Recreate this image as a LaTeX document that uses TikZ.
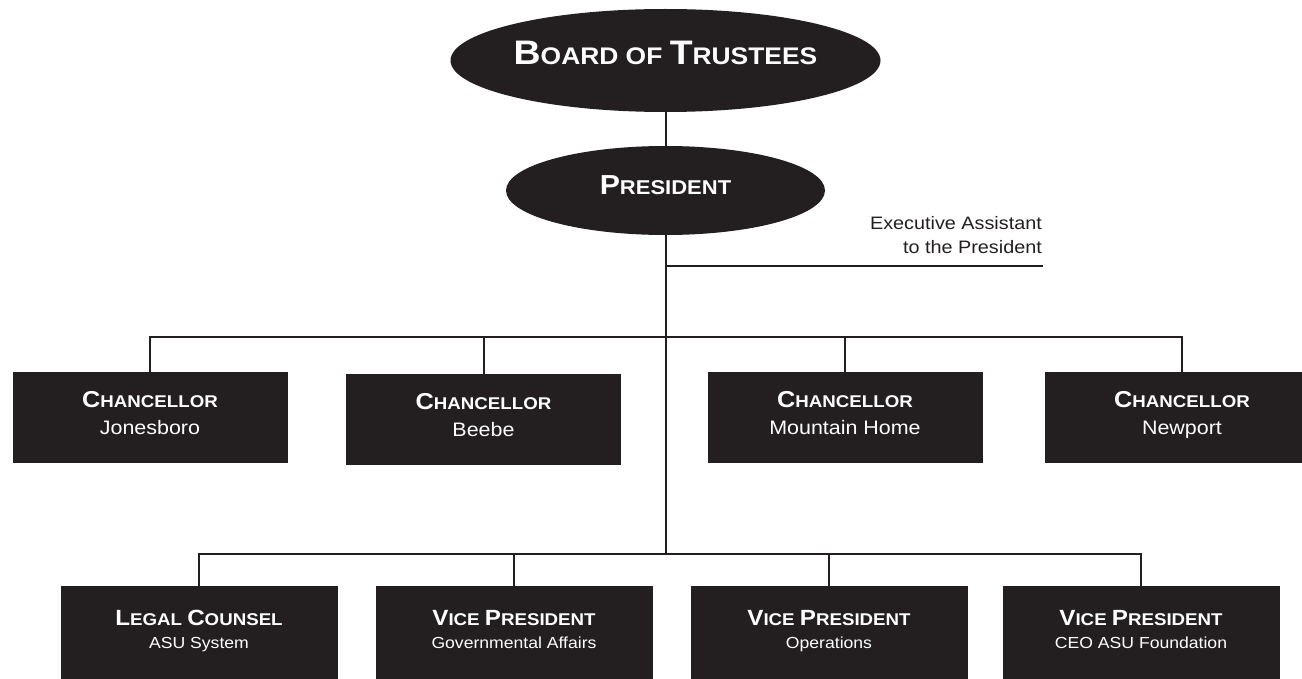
\documentclass[tikz,border=0pt]{standalone}
\usepackage{fontspec}
\setmainfont{Liberation Sans}[FakeStretch=1.1]
\usetikzlibrary{shapes.geometric,calc}
\definecolor{ink}{HTML}{231F20}
\newcommand\fsz[1]{\fontsize{#1}{#1}\selectfont}
\newcommand\scw[4]{{\fsz{#1}#3}{\fsz{#2}#4}}
\tikzset{
  conn/.style={draw=ink, line width=2pt},
  ell/.style={ellipse, fill=ink, inner sep=0pt},
  topbox/.style={rectangle, fill=ink, inner sep=0pt, minimum width=275pt, minimum height=91pt},
  lowbox/.style={rectangle, fill=ink, inner sep=0pt, minimum width=277pt, minimum height=130pt},
  ttl/.style={text=white, font=\bfseries, anchor=base, inner sep=0pt},
  subt/.style={text=white, anchor=base, inner sep=0pt},
  exec/.style={text=ink, anchor=base east, inner sep=0pt, font=\fsz{18}},
}
\begin{document}
\begin{tikzpicture}[x=1pt,y=-1pt]
\useasboundingbox (0,0) rectangle (1302,679);
\clip (0,0) rectangle (1302,679);
% ellipses
\node[ell, minimum width=430pt, minimum height=103pt] (board) at (665.5,60.5) {};
\node[ttl] (boardT) at (665.5,65) {\scw{34}{24}{B}{OARD OF }\scw{34}{24}{T}{RUSTEES}};
\node[ell, minimum width=319pt, minimum height=89pt] (pres) at (665.5,190.5) {};
\node[ttl] (presT) at (665.5,195) {\scw{27.5}{20}{P}{RESIDENT}};
% exec assistant
\coordinate (spine) at (665.5,554);
\coordinate (execend) at (1043,266);
\node[exec] (exec1) at (1042,230) {Executive Assistant};
\node[exec] (exec2) at (1042,254) {to the President};
% chancellors
\coordinate (cbar) at (665.5,337);
\node[topbox] (jon) at (150,417.5) {};
\node[topbox] (bee) at (483.5,419.5) {};
\node[topbox] (mh) at (845,417.5) {};
\node[topbox] (new) at (1182,417.5) {};
\foreach \n/\s in {jon/Jonesboro, bee/Beebe, mh/Mountain Home, new/Newport}{
  \node[ttl] (\n T) at ($(\n.north)+(0,36)$) {\scw{23}{17}{C}{HANCELLOR}};
  \node[subt, font=\fsz{19.5}] (\n S) at ($(\n.north)+(0,63)$) {\s};
}
% bottom row
\node[lowbox] (leg) at (199,651) {};
\node[lowbox] (gov) at (514,651) {};
\node[lowbox] (ops) at (829,651) {};
\node[lowbox] (ceo) at (1141,651) {};
\node[ttl] (legT) at ($(leg.north)+(0,40)$) {\scw{22}{17}{L}{EGAL }\scw{22}{17}{C}{OUNSEL}};
\node[subt, font=\fsz{16}] (legS) at ($(leg.north)+(0,63)$) {ASU System};
\foreach \n/\s in {gov/Governmental Affairs, ops/Operations, ceo/CEO ASU Foundation}{
  \node[ttl] (\n T) at ($(\n.north)+(0,40)$) {\scw{22}{17}{V}{ICE }\scw{22}{17}{P}{RESIDENT}};
  \node[subt, font=\fsz{16}] (\n S) at ($(\n.north)+(0,63)$) {\s};
}
\coordinate (vbar) at (665.5,554);
% connectors
\draw[conn] (board.south) -- (pres.north);
\draw[conn] (pres.south) -- (spine);
\draw[conn] (spine |- execend) -- (execend);
\draw[conn] (jon.north) |- (cbar) -| (new.north);
\draw[conn] (bee.north) -- (bee.north |- cbar);
\draw[conn] (mh.north) -- (mh.north |- cbar);
\draw[conn] (leg.north) |- (vbar) -| (ceo.north);
\draw[conn] (gov.north) -- (gov.north |- vbar);
\draw[conn] (ops.north) -- (ops.north |- vbar);
\end{tikzpicture}
\end{document}
